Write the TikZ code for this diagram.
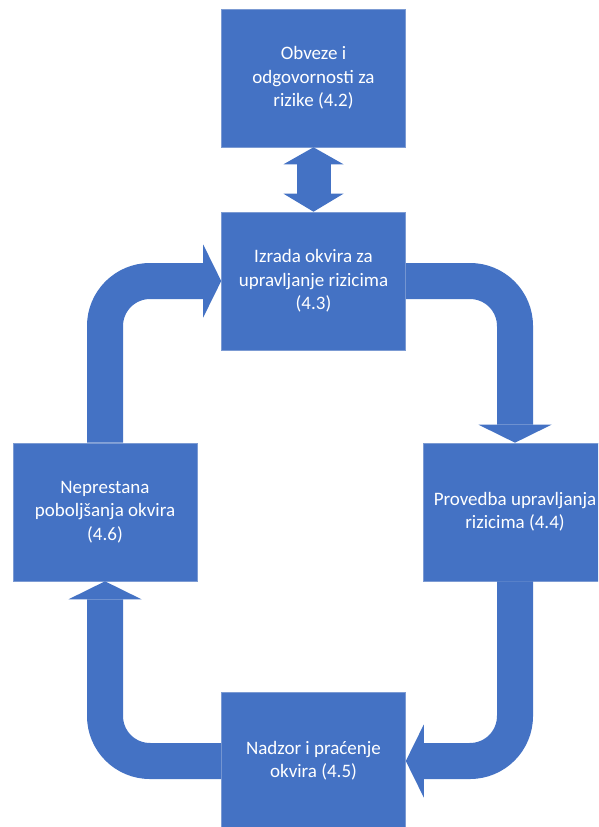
\documentclass[tikz,border=0pt]{standalone}
\usepackage{fontspec}
\setmainfont{Carlito}
\usetikzlibrary{arrows.meta}
\definecolor{boxblue}{HTML}{4472C4}
\definecolor{edgeblue}{HTML}{7C9BD3}
\tikzset{
  stepbox/.style={rectangle, fill=boxblue, draw=edgeblue, line width=0.6pt,
    minimum width=184pt, minimum height=138pt, inner sep=0pt, align=center,
    text=white, font=\fontsize{19}{23.3}\selectfont},
  flow/.style={draw=boxblue, line width=36pt, rounded corners=45pt,
    -{Triangle[width=73pt,length=18pt,line width=0pt]}},
  dbl/.style={draw=boxblue, line width=34pt,
    {Triangle[width=60pt,length=17pt,line width=0pt]}-{Triangle[width=60pt,length=18pt,line width=0pt]}}
}
\begin{document}
\begin{tikzpicture}[x=1pt,y=-1pt]
\useasboundingbox (0,0) rectangle (598,827);
\clip (0,0) rectangle (598,827);
\fill[white] (0,0) rectangle (598,827);
\node[stepbox] (b1) at (313.5,78) {Obveze i\\odgovornosti za\\rizike (4.2)};
\node[stepbox] (b2) at (313.5,281) {Izrada okvira za\\upravljanje rizicima\\(4.3)};
\node[stepbox] (b3) at (105,512) {Neprestana\\poboljšanja okvira\\(4.6)};
\node[stepbox] (b4) at (515,512) {Provedba upravljanja\\rizicima (4.4)};
\node[stepbox] (b5) at (313.5,761) {Nadzor i praćenje\\okvira (4.5)};
\draw[dbl] (b1.south) -- (b2.north);
\draw[flow] (b2.east) -| (b4.north);
\draw[flow] (b4.south) |- (b5.east);
\draw[flow] (b5.west) -| (b3.south);
\draw[flow] (b3.north) |- (b2.west);
\end{tikzpicture}
\end{document}
